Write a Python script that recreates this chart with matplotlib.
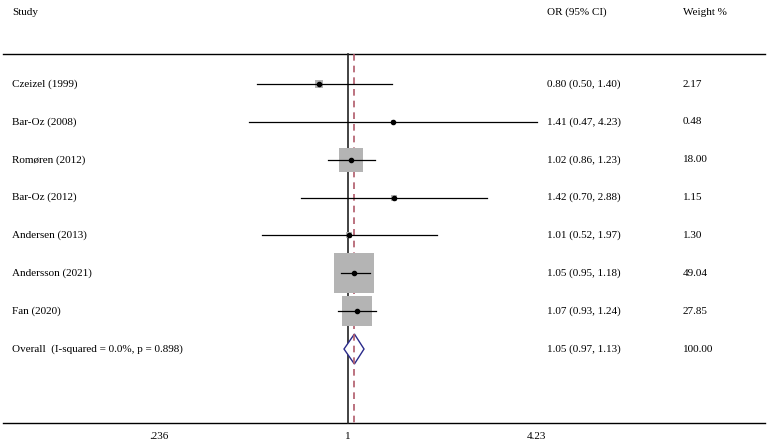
import numpy as np
import matplotlib
matplotlib.use("Agg")
import matplotlib.pyplot as plt

studies = ["Czeizel (1999)", "Bar-Oz (2008)", "Romøren (2012)", "Bar-Oz (2012)",
           "Andersen (2013)", "Andersson (2021)", "Fan (2020)"]
or_est = [0.80, 1.41, 1.02, 1.42, 1.01, 1.05, 1.07]
ci_low = [0.50, 0.47, 0.86, 0.70, 0.52, 0.95, 0.93]
ci_high = [1.40, 4.23, 1.23, 2.88, 1.97, 1.18, 1.24]
weights = [2.17, 0.48, 18.00, 1.15, 1.30, 49.04, 27.85]
overall_label = "Overall  (I-squared = 0.0%, p = 0.898)"
overall = (1.05, 0.97, 1.13)
overall_weight = 100.00
tick_vals = [0.236, 1, 4.23]
tick_labels = [".236", "1", "4.23"]

plt.rcParams['font.family'] = ['Liberation Serif', 'DejaVu Serif']
FS = 8.0

W, H = 767, 446
fig = plt.figure(figsize=(W / 100, H / 100), dpi=100)
ax = fig.add_axes([0, 0, 1, 1])
ax.set_xscale('log')
px_per_ln = 131.0
x_null_px = 348.0
ax.set_xlim(np.exp(-x_null_px / px_per_ln), np.exp((W - x_null_px) / px_per_ln))
row_px = 37.86
first_px = 84.0
ax.set_ylim((H - first_px) / row_px, -first_px / row_px)
ax.axis('off')

def ypx(p):
    return (p - first_px) / row_px

y_top = ypx(54)
y_bot = ypx(423)

# frame lines
ax.axhline(y_top, xmin=3 / W, xmax=765 / W, color='black', lw=1.0)
ax.axhline(y_bot, xmin=3 / W, xmax=765 / W, color='black', lw=1.0)
ax.plot([1, 1], [y_top, y_bot], color='#222222', lw=1.2, zorder=2)
ax.plot([overall[0], overall[0]], [y_top, y_bot], color='#b05a6a', lw=1.2,
        ls=(0, (4, 3)), zorder=2)

pt_per_px = 72 / 100
for i, (o, lo, hi, w) in enumerate(zip(or_est, ci_low, ci_high, weights)):
    side_px = 5.71 * np.sqrt(w)
    ax.plot([o], [i], marker='s', ms=side_px * pt_per_px, mfc='#b4b4b4',
            mec='none', mew=0, zorder=3)
    ax.plot([lo, hi], [i, i], color='black', lw=0.9, zorder=4)
    ax.plot([o], [i], marker='o', ms=3.0, color='black', zorder=5)
    ax.text(12 / W, i, studies[i], transform=ax.get_yaxis_transform(),
            ha='left', va='center', fontsize=FS)
    ax.text(547 / W, i, f"{o:.2f} ({lo:.2f}, {hi:.2f})",
            transform=ax.get_yaxis_transform(), ha='left', va='center', fontsize=FS)
    ax.text(683 / W, i, f"{w:.2f}", transform=ax.get_yaxis_transform(),
            ha='left', va='center', fontsize=FS)

# overall diamond
oi = len(studies)
dh = 15 / row_px
ax.fill([overall[1], overall[0], overall[2], overall[0], overall[1]],
        [oi, oi - dh, oi, oi + dh, oi], facecolor='white', edgecolor='#2a2a8a',
        lw=1.0, zorder=3)
ax.plot([overall[0], overall[0]], [oi - dh, oi + dh], color='#b05a6a', lw=1.2,
        ls=(0, (4, 3)), zorder=4)
ax.text(12 / W, oi, overall_label, transform=ax.get_yaxis_transform(),
        ha='left', va='center', fontsize=FS)
ax.text(547 / W, oi, f"{overall[0]:.2f} ({overall[1]:.2f}, {overall[2]:.2f})",
        transform=ax.get_yaxis_transform(), ha='left', va='center', fontsize=FS)
ax.text(683 / W, oi, f"{overall_weight:.2f}", transform=ax.get_yaxis_transform(),
        ha='left', va='center', fontsize=FS)

# headers
yh = ypx(12)
ax.text(12 / W, yh, "Study", transform=ax.get_yaxis_transform(), ha='left', va='center', fontsize=FS)
ax.text(547 / W, yh, "OR (95% CI)", transform=ax.get_yaxis_transform(), ha='left', va='center', fontsize=FS)
ax.text(683 / W, yh, "Weight %", transform=ax.get_yaxis_transform(), ha='left', va='center', fontsize=FS)

# tick labels
yt = ypx(436)
for v, lab in zip(tick_vals, tick_labels):
    ax.text(v, yt, lab, ha='center', va='center', fontsize=FS)

fig.savefig("out.png", dpi=100)
